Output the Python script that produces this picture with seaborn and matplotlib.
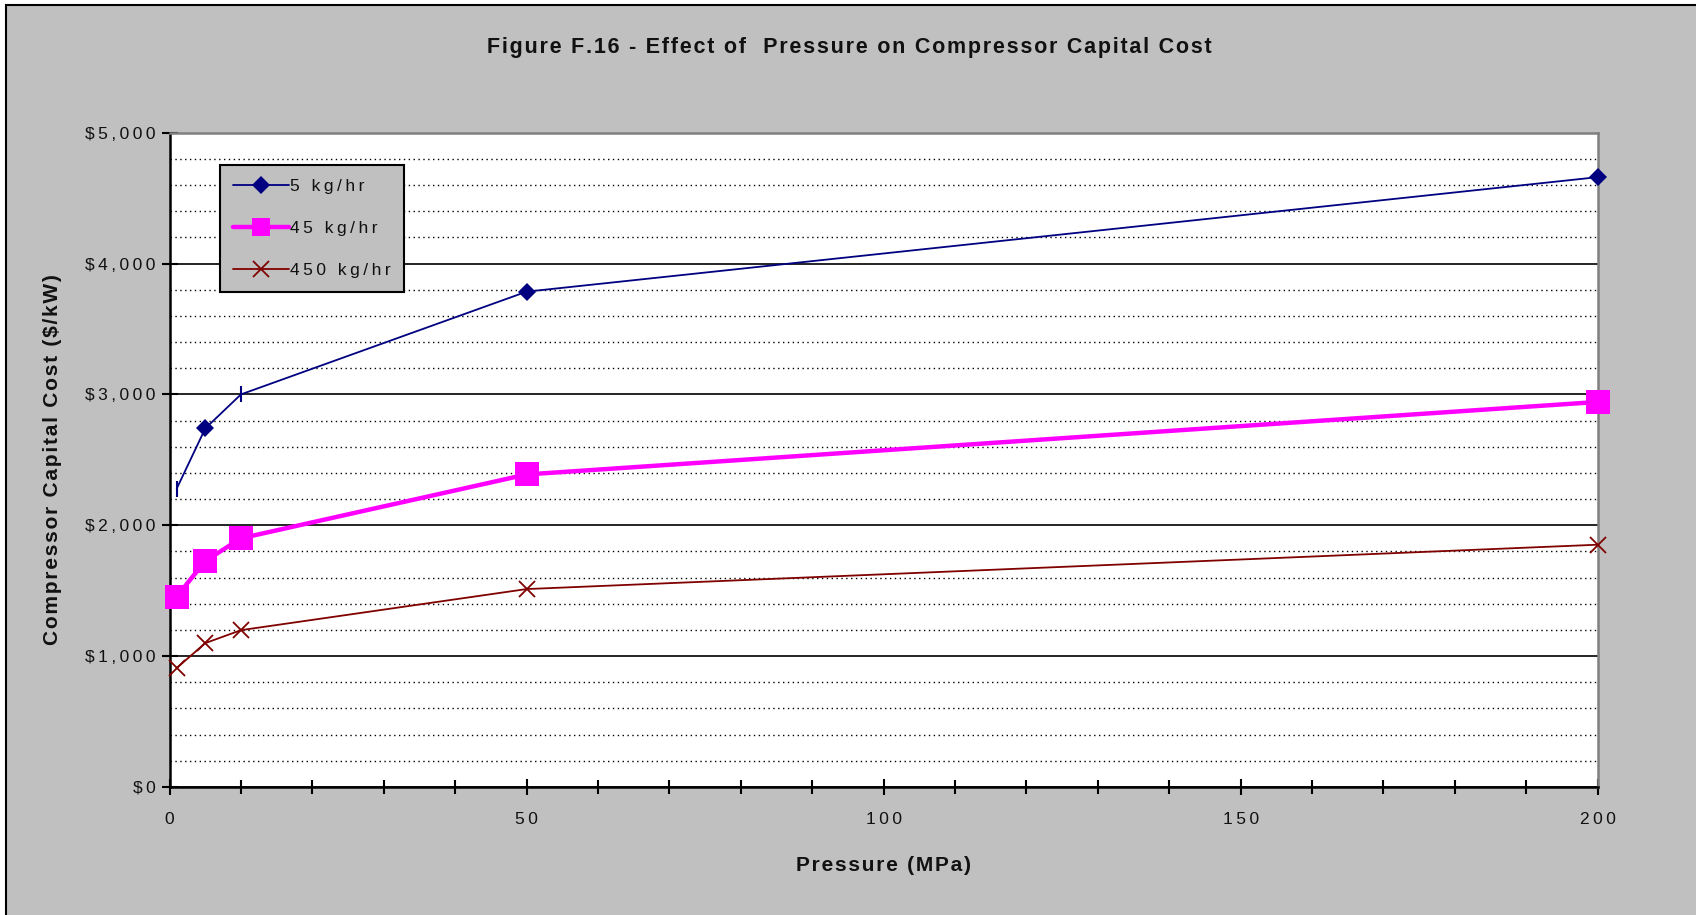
import matplotlib
matplotlib.use("Agg")
import matplotlib.pyplot as plt
import seaborn as sns
import numpy as np
import pandas as pd
from matplotlib.ticker import MultipleLocator, FuncFormatter
from matplotlib.patches import Rectangle
from matplotlib.lines import Line2D

# ---- data ----
pressure = [1, 5, 10, 50, 200]
cost_5 = [2280, 2740, 3000, 3785, 4660]
cost_45 = [1455, 1727, 1900, 2388, 2942]
cost_450 = [909, 1099, 1198, 1512, 1851]
series_labels = ["5 kg/hr", "45 kg/hr", "450 kg/hr"]
title = "Figure F.16 - Effect of  Pressure on Compressor Capital Cost"
xlabel = "Pressure (MPa)"
ylabel = "Compressor Capital Cost ($/kW)"

THIN = "\u2009"
HAIR = "\u200a"


def spaced(s, sep=THIN):
    return sep.join(s)


sns.set_theme(style="white")
plt.rcParams['font.family'] = ['Liberation Sans', 'DejaVu Sans']

fig = plt.figure(figsize=(16.96, 9.15), dpi=100)
fig.patch.set_facecolor("white")
bg = Rectangle((0.0038, -0.05), 1.1, 0.994 + 0.05, transform=fig.transFigure,
               facecolor="#C0C0C0", edgecolor="black", linewidth=1.5, zorder=-10)
fig.patches.append(bg)

ax = fig.add_axes([0.100, 0.140, 0.842, 0.715])
ax.set_zorder(1)
ax.set_facecolor("white")

navy, magenta, darkred = "#000080", "#FF00FF", "#800000"

sns.lineplot(x=pressure, y=cost_5, ax=ax, color=navy, linewidth=1.3, marker="D",
             markersize=9.5, markeredgewidth=0, markevery=[1, 3, 4], clip_on=False, zorder=5)
sns.lineplot(x=pressure, y=cost_5, ax=ax, color=navy, linewidth=0, marker="|",
             markersize=11, markeredgewidth=1.5, markeredgecolor=navy, markevery=[0, 2],
             clip_on=False, zorder=5)
sns.lineplot(x=pressure, y=cost_45, ax=ax, color=magenta, linewidth=3.2, marker="s",
             markersize=17.5, markeredgewidth=0, clip_on=False, zorder=5)
sns.lineplot(x=pressure, y=cost_450, ax=ax, color=darkred, linewidth=1.3, marker="x",
             markersize=11, markeredgewidth=1.3, markeredgecolor=darkred,
             clip_on=False, zorder=5)

ax.set_xlim(0, 200)
ax.set_ylim(0, 5000)
ax.xaxis.set_major_locator(MultipleLocator(50))
ax.xaxis.set_minor_locator(MultipleLocator(10))
ax.yaxis.set_major_locator(MultipleLocator(1000))
ax.yaxis.set_minor_locator(MultipleLocator(200))
ax.xaxis.set_major_formatter(FuncFormatter(lambda v, p: spaced(f"{int(v)}")))
ax.yaxis.set_major_formatter(FuncFormatter(lambda v, p: spaced(f"${int(v):,}")))

ax.grid(which="major", axis="y", color="black", linewidth=1.2, linestyle="-")
ax.grid(which="minor", axis="y", color="black", linewidth=1.0, linestyle=(0, (1, 2.5)))
ax.grid(which="both", axis="x", visible=False)
ax.set_axisbelow(True)

ax.tick_params(axis="x", which="both", bottom=True)
ax.tick_params(axis="y", which="major", left=True)
ax.tick_params(axis="x", which="major", direction="inout", length=12, width=1.5,
               color="black", labelsize=12.5, pad=12, labelcolor="#111111")
ax.tick_params(axis="x", which="minor", direction="inout", length=10, width=1.5, color="black")
ax.tick_params(axis="y", which="major", direction="inout", length=12, width=1.5,
               color="black", labelsize=12.5, pad=4, labelcolor="#111111")
ax.tick_params(axis="y", which="minor", length=0)

for side in ["left", "bottom"]:
    ax.spines[side].set_color("black")
    ax.spines[side].set_linewidth(1.8)
for side in ["top", "right"]:
    ax.spines[side].set_color("#808080")
    ax.spines[side].set_linewidth(1.8)

ax.set_xlabel(spaced(xlabel, HAIR), fontsize=15, fontweight="bold", color="#111111")
ax.set_ylabel(spaced(ylabel, HAIR), fontsize=15, fontweight="bold", color="#111111")
ax.xaxis.set_label_coords(0.5, -0.106)
ax.yaxis.set_label_coords(-0.075, 0.5)

fig.text(0.501, 0.948, spaced(title, HAIR), ha="center", va="center", fontsize=15.5,
         fontweight="bold", color="#111111")

handles = [
    Line2D([], [], color=navy, linewidth=1.3, marker="D", markersize=9, markeredgewidth=0),
    Line2D([], [], color=magenta, linewidth=3.2, marker="s", markersize=13, markeredgewidth=0),
    Line2D([], [], color=darkred, linewidth=1.3, marker="x", markersize=11, markeredgewidth=1.3),
]
leg = ax.legend(handles, [spaced(s) for s in series_labels], loc="upper left",
                bbox_to_anchor=(0.035, 0.950),
                borderaxespad=0, frameon=True, fancybox=False, framealpha=1,
                facecolor="#C0C0C0", edgecolor="black", fontsize=12.5, handlelength=3.2,
                handletextpad=0.08, labelspacing=1.55, borderpad=0.78)
leg.get_frame().set_linewidth(1.5)
leg.set_zorder(10)
for t in leg.get_texts():
    t.set_color("#111111")

fig.savefig("out.png", dpi=100, facecolor=fig.get_facecolor())
